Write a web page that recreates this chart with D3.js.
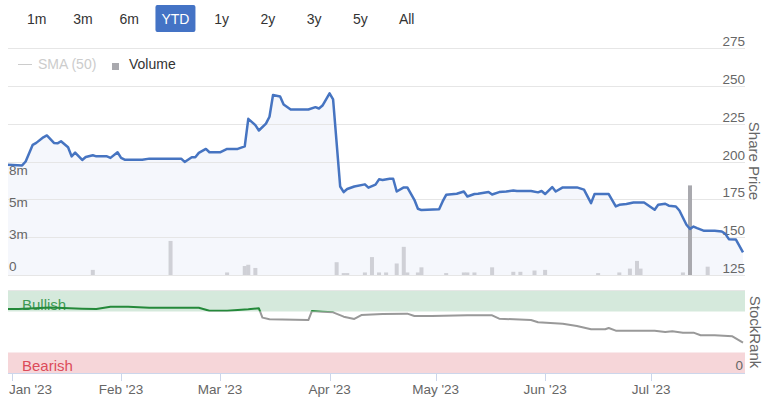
<!DOCTYPE html>
<html><head><meta charset="utf-8">
<script src="https://cdn.jsdelivr.net/npm/d3@7"></script>
<style>
body{margin:0;background:#fff}
svg{display:block;font-family:"Liberation Sans",Arial,Helvetica,sans-serif}
</style>
</head><body>
<svg id="c" width="770" height="397"></svg>
<script>
// ---------------- data ----------------
const rangeButtons = ["1m","3m","6m","YTD","1y","2y","3y","5y","All"];
const selectedRange = "YTD";

const priceDates = ["2022-12-31","2023-01-04","2023-01-05","2023-01-07","2023-01-08","2023-01-10","2023-01-11","2023-01-13","2023-01-14","2023-01-15","2023-01-17","2023-01-18","2023-01-19","2023-01-21","2023-01-22","2023-01-24","2023-01-25","2023-01-28","2023-01-29","2023-01-31",
"2023-02-01","2023-02-02","2023-02-07","2023-02-09","2023-02-18","2023-02-19","2023-02-21","2023-02-22","2023-02-23","2023-02-25","2023-02-26",
"2023-03-01","2023-03-03","2023-03-06","2023-03-08","2023-03-09","2023-03-11","2023-03-12","2023-03-14","2023-03-15","2023-03-16","2023-03-18","2023-03-19","2023-03-21","2023-03-26","2023-03-28","2023-03-29","2023-03-30",
"2023-04-01","2023-04-02","2023-04-04","2023-04-05","2023-04-06","2023-04-08","2023-04-11","2023-04-12","2023-04-14","2023-04-15","2023-04-16","2023-04-18","2023-04-19","2023-04-20","2023-04-22","2023-04-23","2023-04-25","2023-04-26","2023-04-27",
"2023-05-02","2023-05-03","2023-05-04","2023-05-07","2023-05-09","2023-05-10","2023-05-12","2023-05-13","2023-05-16","2023-05-17","2023-05-19","2023-05-21","2023-05-23","2023-05-24","2023-05-28","2023-05-30","2023-05-31",
"2023-06-01","2023-06-03","2023-06-04","2023-06-06","2023-06-10","2023-06-12","2023-06-14","2023-06-15","2023-06-19","2023-06-21","2023-06-22","2023-06-24","2023-06-26","2023-06-29",
"2023-07-02","2023-07-03","2023-07-05","2023-07-06","2023-07-08","2023-07-09","2023-07-11","2023-07-12","2023-07-13","2023-07-14","2023-07-16","2023-07-19","2023-07-21","2023-07-22","2023-07-23","2023-07-25","2023-07-27"];
const priceValues = [197.9,197.4,200.0,211.0,212.3,216.0,217.2,212.3,212.0,213.4,209.4,203.4,205.9,201.0,203.0,204.1,203.4,203.4,202.4,206.1,
202.4,201.2,201.2,201.9,201.9,199.7,202.8,202.8,205.7,208.3,206.1,
206.1,208.3,208.3,210.0,228.2,224.0,220.5,225.0,229.6,243.9,243.0,237.7,234.4,234.4,235.9,235.0,237.0,
245.0,241.0,183.5,179.8,181.8,183.5,184.9,182.7,184.7,188.2,187.8,188.6,188.6,180.2,182.9,182.9,174.7,168.8,167.9,
168.5,173.6,178.0,178.7,180.2,176.9,178.5,178.7,179.8,178.2,179.8,180.2,180.9,180.5,180.5,179.6,180.5,
178.5,183.1,180.2,182.9,182.9,181.4,172.5,178.5,178.5,170.3,171.4,171.9,172.9,172.9,
168.1,171.4,172.1,170.8,170.3,167.6,158.2,155.5,157.0,156.0,154.2,154.2,153.7,152.2,148.7,148.4,140.0];

// volume in millions
const volumeDates = ["2023-01-24","2023-02-15","2023-03-03","2023-03-08","2023-03-09","2023-03-11","2023-04-03","2023-04-05","2023-04-06","2023-04-11","2023-04-13","2023-04-15","2023-04-17","2023-04-20","2023-04-22","2023-04-23","2023-04-26","2023-04-27",
"2023-05-04","2023-05-09","2023-05-10","2023-05-12","2023-05-17","2023-05-23","2023-05-25","2023-05-29","2023-06-01","2023-06-16","2023-06-22","2023-06-25","2023-06-27","2023-06-28","2023-07-10","2023-07-12","2023-07-17"];
const volumeValues = [0.4,2.66,0.2,0.7,0.8,0.55,1.0,0.15,0.15,0.2,1.4,0.2,0.2,0.9,2.2,0.2,0.2,0.6,
0.15,0.2,0.2,0.2,0.6,0.25,0.25,0.35,0.4,0.15,0.2,0.5,1.1,0.5,0.2,7.0,0.65];

const rankDates = ["2022-12-31","2023-01-03","2023-01-12","2023-01-21","2023-01-25","2023-01-29","2023-02-03","2023-02-09","2023-02-23","2023-02-26","2023-03-03","2023-03-09","2023-03-12","2023-03-13","2023-03-15","2023-03-26","2023-03-27","2023-03-30","2023-04-02","2023-04-05","2023-04-08","2023-04-10","2023-04-16","2023-04-23","2023-04-25","2023-04-30",
"2023-05-10","2023-05-17","2023-05-19","2023-05-28","2023-05-30","2023-06-06","2023-06-10","2023-06-14","2023-06-18","2023-06-19","2023-06-21","2023-07-02","2023-07-05","2023-07-07","2023-07-10","2023-07-13","2023-07-15","2023-07-19","2023-07-24","2023-07-27"];
const rankValues = [78,78,80,78.4,78,80.9,80.9,79.6,79.6,76,76,77.7,78.9,67.5,65.5,64.6,75.5,74.8,74,68.7,65.9,70.7,72,72.4,69.5,69.5,
70.3,70.3,66.2,64.6,61.8,60.1,57.3,53.3,53.3,54.9,51.6,51.6,50,50.8,49.2,49.2,46,46,44.7,37];

const priceTicks = [125,150,175,200,225,250,275];
const volumeTicks = [0,2.5,5,7.5];
const volumeTickLabels = ["0","3m","5m","8m"];
const monthTicks = ["2023-01-01","2023-02-01","2023-03-01","2023-04-01","2023-05-01","2023-06-01","2023-07-01"];
const monthLabels = ["Jan '23","Feb '23","Mar '23","Apr '23","May '23","Jun '23","Jul '23"];
const rankBands = [{name:"Bullish",from:75,to:100},{name:"Bearish",from:0,to:25}];
const rankThreshold = 75;

// ---------------- chart ----------------
const parse = d3.timeParse("%Y-%m-%d");
const svg = d3.select("#c");
const L = 8, R = 743, GR = 745;

const x = d3.scaleTime().domain([parse("2022-12-31"), parse("2023-07-27")]).range([L, R]);
const yP = d3.scaleLinear().domain([125, 275]).range([275, 48]);
const yV = d3.scaleLinear().domain([0, 7.5]).range([275, 179]);
const yR = d3.scaleLinear().domain([0, 100]).range([373, 291]);

const price = priceDates.map((d, i) => ({date: parse(d), v: priceValues[i]}));
const vol = volumeDates.map((d, i) => ({date: parse(d), v: volumeValues[i]}));
const rank = rankDates.map((d, i) => ({date: parse(d), v: rankValues[i]}));

// range selector buttons
const bx = d3.scalePoint().domain(rangeButtons).range([36.7, 406.7]);
const btn = svg.append("g");
btn.selectAll("rect").data(rangeButtons.filter(b => b === selectedRange)).join("rect")
  .attr("x", d => bx(d) - 20).attr("y", 5).attr("width", 40).attr("height", 27)
  .attr("rx", 2).attr("fill", "#4473c5");
btn.selectAll("text").data(rangeButtons).join("text")
  .attr("x", d => bx(d)).attr("y", 24).attr("text-anchor", "middle")
  .attr("font-size", 14).attr("fill", d => d === selectedRange ? "#fff" : "#333").text(d => d);

// area under price
svg.append("path").datum(price)
  .attr("d", d3.area().x(d => x(d.date)).y0(yP(125)).y1(d => yP(d.v)))
  .attr("fill", "rgba(69,114,196,0.055)");

// price gridlines + labels
const pg = svg.append("g");
pg.selectAll("line").data(priceTicks).join("line")
  .attr("x1", L).attr("x2", GR).attr("y1", d => Math.round(yP(d)) + 0.5).attr("y2", d => Math.round(yP(d)) + 0.5)
  .attr("stroke", "#e6e6e6");
pg.selectAll("text").data(priceTicks).join("text")
  .attr("x", GR).attr("y", d => yP(d) - 2).attr("text-anchor", "end")
  .attr("font-size", 13.5).attr("fill", "#666").text(d => d);

svg.append("text").attr("transform", `translate(749,161) rotate(90)`)
  .attr("text-anchor", "middle").attr("font-size", 15).attr("fill", "#666").text("Share Price");

// volume labels
svg.append("g").selectAll("text").data(volumeTicks).join("text")
  .attr("x", 9).attr("y", d => yV(d) - 4).attr("font-size", 13.5).attr("fill", "#666")
  .text((d, i) => volumeTickLabels[i]);

// volume bars
const vmax = d3.max(volumeValues);
svg.append("g").selectAll("rect").data(vol).join("rect")
  .attr("x", d => x(d.date) - 2).attr("width", 4)
  .attr("y", d => yV(d.v)).attr("height", d => yV(0) - yV(d.v))
  .attr("fill", d => d.v === vmax ? "#a9a9ae" : "#cfd0d6");

// price line
svg.append("path").datum(price)
  .attr("d", d3.line().x(d => x(d.date)).y(d => yP(d.v)))
  .attr("fill", "none").attr("stroke", "#4674c1").attr("stroke-width", 2.5)
  .attr("stroke-linejoin", "round");

// legend
const lg = svg.append("g");
lg.append("line").attr("x1", 18).attr("x2", 32).attr("y1", 64.5).attr("y2", 64.5).attr("stroke", "#ccc").attr("stroke-width", 1);
lg.append("text").attr("x", 38).attr("y", 69).attr("font-size", 14).attr("fill", "#ccc").text("SMA (50)");
lg.append("rect").attr("x", 112).attr("y", 63).attr("width", 7).attr("height", 7).attr("fill", "#a9a9ae");
lg.append("text").attr("x", 129).attr("y", 69).attr("font-size", 14).attr("fill", "#333").text("Volume");

// StockRank panel
svg.append("line").attr("x1", L).attr("x2", GR).attr("y1", 290.5).attr("y2", 290.5).attr("stroke", "#e6e6e6");
svg.append("g").selectAll("rect").data(rankBands).join("rect")
  .attr("x", L).attr("width", GR - L)
  .attr("y", d => yR(d.to)).attr("height", d => yR(d.from) - yR(d.to))
  .attr("fill", d => d.name === "Bullish" ? "#d5e9dc" : "#f6d6d9");
svg.append("text").attr("x", 22).attr("y", 310).attr("font-size", 15).attr("fill", "#3f9a55").text("Bullish");
svg.append("text").attr("x", 22).attr("y", 370.5).attr("font-size", 15).attr("fill", "#dc4b5a").text("Bearish");
svg.append("text").attr("x", 743).attr("y", 369.5).attr("text-anchor", "end").attr("font-size", 13.5).attr("fill", "#666").text("0");
svg.append("text").attr("transform", `translate(750,332) rotate(90)`)
  .attr("text-anchor", "middle").attr("font-size", 15).attr("fill", "#666").text("StockRank");

const defs = svg.append("defs");
defs.append("clipPath").attr("id", "above").append("rect")
  .attr("x", 0).attr("y", 280).attr("width", 770).attr("height", yR(rankThreshold) - 280);
defs.append("clipPath").attr("id", "below").append("rect")
  .attr("x", 0).attr("y", yR(rankThreshold)).attr("width", 770).attr("height", 100);
const rline = d3.line().x(d => x(d.date)).y(d => yR(d.v));
svg.append("path").datum(rank).attr("d", rline).attr("clip-path", "url(#below)")
  .attr("fill", "none").attr("stroke", "#999").attr("stroke-width", 2).attr("stroke-linejoin", "round");
svg.append("path").datum(rank).attr("d", rline).attr("clip-path", "url(#above)")
  .attr("fill", "none").attr("stroke", "#24893a").attr("stroke-width", 2).attr("stroke-linejoin", "round");

// x axis
svg.append("line").attr("x1", L).attr("x2", GR).attr("y1", 373.5).attr("y2", 373.5).attr("stroke", "#ccd6eb");
const xt = svg.append("g");
xt.selectAll("line").data(monthTicks).join("line")
  .attr("x1", d => Math.round(x(parse(d))) + 0.5).attr("x2", d => Math.round(x(parse(d))) + 0.5)
  .attr("y1", 373).attr("y2", 381).attr("stroke", "#ccd6eb");
xt.selectAll("text").data(monthTicks).join("text")
  .attr("x", (d, i) => i === 0 ? 9 : x(parse(d)))
  .attr("text-anchor", (d, i) => i === 0 ? "start" : "middle")
  .attr("y", 394).attr("font-size", 13.5).attr("fill", "#666")
  .text((d, i) => monthLabels[i]);
</script>
</body></html>
